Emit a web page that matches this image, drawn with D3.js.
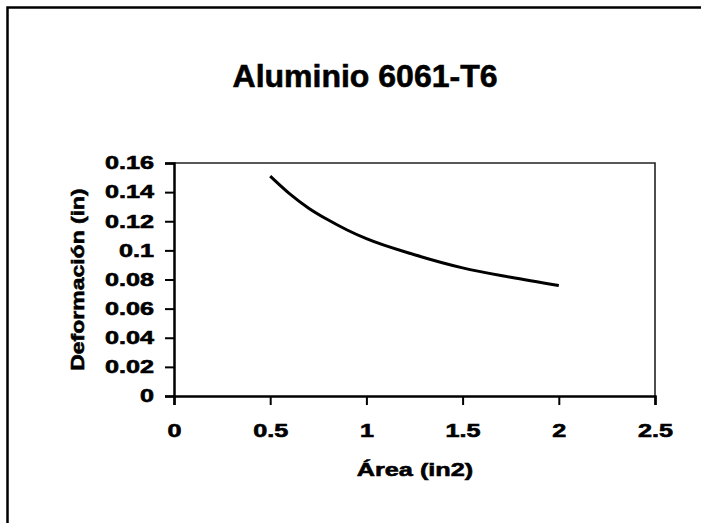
<!DOCTYPE html>
<html>
<head>
<meta charset="utf-8">
<script src="https://cdn.jsdelivr.net/npm/d3@7"></script>
<style>
  body { margin: 0; background: #fff; }
  svg { display: block; font-family: "Liberation Sans", Arial, sans-serif; }
  /* scanned print is heavy, thicken the letters a little */
  svg text { stroke: #000; stroke-width: 0.6px; }
</style>
</head>
<body>
<div id="chart"></div>
<script>
// data
var area = [0.5, 0.6, 0.7, 0.8, 0.9, 1.0, 1.25, 1.5, 1.75, 2.0];
var deformacion = [0.151, 0.139, 0.129, 0.121, 0.114, 0.108, 0.097, 0.088, 0.0815, 0.0758];
var xTicks = [0, 0.5, 1, 1.5, 2, 2.5];
var yTicks = [0, 0.02, 0.04, 0.06, 0.08, 0.1, 0.12, 0.14, 0.16];
var title = "Aluminio 6061-T6";
var xTitle = "Área (in2)";
var yTitle = "Deformación (in)";

var width = 711, height = 523;
var plot = {left: 174, right: 655, top: 163, bottom: 396};
// the scanned lettering is wide, so text gets stretched along its line
var wide = 1.4;

var svg = d3.select('#chart')
  .append('svg')
  .attr('width', width)
  .attr('height', height);

// outer frame (only top and left edges show in the scan)
svg.append('path')
  .attr('d', 'M7.5,' + height + 'V7.5H701')
  .attr('fill', 'none')
  .attr('stroke', '#000')
  .attr('stroke-width', 2.5);

var x = d3.scaleLinear().domain([0, 2.5]).range([plot.left, plot.right]);
var y = d3.scaleLinear().domain([0, 0.16]).range([plot.bottom, plot.top]);

// plot area border, top and right
svg.append('path')
  .attr('d', 'M' + plot.left + ',' + plot.top + 'H' + plot.right + 'V' + plot.bottom)
  .attr('fill', 'none')
  .attr('stroke', '#222')
  .attr('stroke-width', 1.6);

// x axis
var gx = svg.append('g')
  .attr('transform', 'translate(0,' + plot.bottom + ')')
  .call(d3.axisBottom(x).tickValues(xTicks).tickSize(9).tickFormat(d3.format('')));
gx.select('.domain').attr('stroke-width', 2.5);
gx.selectAll('.tick line').attr('stroke-width', 2);
gx.selectAll('.tick text')
  .attr('y', 41)
  .attr('dy', null)
  .attr('transform', 'scale(' + wide + ',1)')
  .attr('font-size', 18)
  .attr('font-weight', 'bold')
  .attr('fill', '#000');

// y axis
var gy = svg.append('g')
  .attr('transform', 'translate(' + plot.left + ',0)')
  .call(d3.axisLeft(y).tickValues(yTicks).tickSize(9).tickFormat(d3.format('')));
gy.select('.domain').attr('stroke-width', 2.5);
gy.selectAll('.tick line').attr('stroke-width', 2);
gy.selectAll('.tick text')
  .attr('x', 0)
  .attr('transform', 'translate(-20,0) scale(' + wide + ',1)')
  .attr('font-size', 18)
  .attr('font-weight', 'bold')
  .attr('fill', '#000');

// curve
var line = d3.line()
  .x(function(d, i) { return x(area[i]); })
  .y(function(d) { return y(d); })
  .curve(d3.curveMonotoneX);

svg.append('path')
  .datum(deformacion)
  .attr('d', line)
  .attr('fill', 'none')
  .attr('stroke', '#000')
  .attr('stroke-width', 3);

// titles
svg.append('text')
  .attr('x', 365)
  .attr('y', 87)
  .attr('text-anchor', 'middle')
  .attr('font-size', 32)
  .attr('font-weight', 'bold')
  .text(title);

svg.append('text')
  .attr('transform', 'translate(415,476) scale(1.33,1)')
  .attr('text-anchor', 'middle')
  .attr('font-size', 19)
  .attr('font-weight', 'bold')
  .text(xTitle);

svg.append('text')
  .attr('transform', 'translate(84,' + (plot.top + plot.bottom) / 2 + ') rotate(-90) scale(1.21,1)')
  .attr('text-anchor', 'middle')
  .attr('font-size', 19)
  .attr('font-weight', 'bold')
  .text(yTitle);
</script>
</body>
</html>
